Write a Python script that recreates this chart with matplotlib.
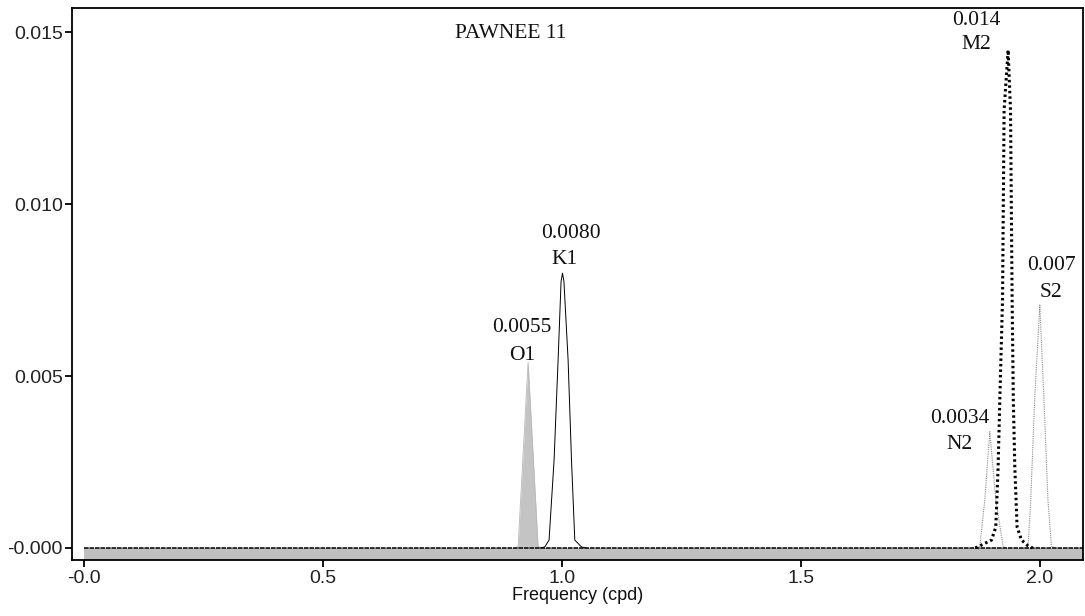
import matplotlib
matplotlib.use("Agg")
import matplotlib.pyplot as plt

# ---------------- data ----------------
title_text = "PAWNEE 11"

base_freq = [0.0, 2.09]
base_amp = [0.0, 0.0]

o1_freq = [0.903, 0.9086, 0.9295, 0.9504, 0.956]
o1_amp = [0.0, 0.00005, 0.0054, 0.00005, 0.0]

k1_freq = [0.955, 0.9644, 0.9734, 0.9839, 0.9923, 0.9985, 1.0015, 1.0045, 1.0132, 1.0203, 1.0272, 1.0412, 1.05]
k1_amp = [0.0, 0.00003, 0.00023, 0.00256, 0.00547, 0.00775, 0.00799, 0.00775, 0.00547, 0.00256, 0.00023, 0.00003, 0.0]

n2_freq = [1.868, 1.8745, 1.8849, 1.8954, 1.9079, 1.9232, 1.93]
n2_amp = [0.0, 0.00005, 0.0014, 0.00338, 0.0014, 0.00005, 0.0]

m2_freq = [1.865, 1.8745, 1.8990, 1.9079, 1.9128, 1.9163, 1.9220, 1.9253, 1.9337,
           1.9387, 1.9421, 1.9446, 1.9477, 1.9525, 1.9617, 1.9755, 1.985]
m2_amp = [0.0, 0.00006, 0.00023, 0.00061, 0.00235, 0.00430, 0.00721, 0.01273, 0.01448,
          0.01273, 0.00721, 0.00430, 0.00235, 0.00061, 0.00023, 0.00006, 0.0]

s2_freq = [1.968, 1.9755, 1.981, 1.9895, 2.0000, 2.0084, 2.017, 2.0244, 2.032]
s2_amp = [0.0, 0.00005, 0.0014, 0.0044, 0.00706, 0.0044, 0.0014, 0.00005, 0.0]

# peak annotations
ann_value = ["0.0055", "0.0080", "0.0034", "0.014", "0.007"]
ann_name = ["O1", "K1", "N2", "M2", "S2"]
ann_x = [0.917, 1.0186, 1.8326, 1.868, 2.0243]
ann_x_name = [0.917, 1.005, 1.8326, 1.868, 2.0243]
ann_y_value = [0.00640, 0.00913, 0.00375, 0.01535, 0.00820]
ann_y_name = [0.00561, 0.00840, 0.00300, 0.01465, 0.00744]

xtick_vals = [0.0, 0.5, 1.0, 1.5, 2.0]
xtick_labels = ["-0.0", "0.5", "1.0", "1.5", "2.0"]
ytick_vals = [0.0, 0.005, 0.010, 0.015]
ytick_labels = ["-0.000", "0.005", "0.010", "0.015"]
x_label = "Frequency (cpd)"

# ---------------- figure ----------------
fig = plt.figure(figsize=(10.85, 6.16), dpi=100)
ax = fig.add_axes([0.0668, 0.0909, 0.9312, 0.8961])

ax.set_xlim(-0.0236, 2.090)
ax.set_ylim(-0.00035, 0.0157)

# gray band below the baseline
ax.fill_between(base_freq, [-0.00034, -0.00034], base_amp, color="#c0c0c0", lw=0, zorder=1)

# O1 filled
ax.fill_between(o1_freq, 0, o1_amp, color="#c4c4c4", lw=0, zorder=2)
ax.plot(o1_freq, o1_amp, color="#b8b8b8", lw=0.6, zorder=2)

# K1 solid thin
ax.plot(k1_freq, k1_amp, color="black", lw=0.7, zorder=3)

# N2, S2 thin gray dotted
ax.plot(n2_freq, n2_amp, color="#8a8a8a", lw=0.8, ls=(0, (1, 1)), zorder=3)
ax.plot(s2_freq, s2_amp, color="#8a8a8a", lw=0.8, ls=(0, (1, 1)), zorder=3)

# M2 thick dotted
ax.plot(m2_freq, m2_amp, color="black", lw=2.2, ls=(0, (0.8, 1.0)), zorder=4)

# baseline
ax.plot(base_freq, base_amp, color="black", lw=1.1, ls=(0, (3, 0.6)), zorder=3)

serif = ["Liberation Serif", "DejaVu Serif"]
for v, n, xv, xn, yv, yn in zip(ann_value, ann_name, ann_x, ann_x_name, ann_y_value, ann_y_name):
    ax.text(xv, yv, v, ha="center", va="center", fontsize=15.5, family=serif, color="#111111")
    ax.text(xn, yn, n, ha="center", va="center", fontsize=15.5, family=serif, color="#111111")

ax.text(0.893, 0.01497, title_text, ha="center", va="center", fontsize=15.5, family=serif, color="#111111")

ax.set_xticks(xtick_vals)
ax.set_xticklabels(xtick_labels)
ax.set_yticks(ytick_vals)
ax.set_yticklabels(ytick_labels)
for lab in ax.get_xticklabels() + ax.get_yticklabels():
    lab.set_family(["Liberation Sans", "DejaVu Sans"])
    lab.set_fontsize(14)
    lab.set_color("#222222")
ax.tick_params(direction="out", length=5, width=1.3, color="black", pad=2)
ax.set_xlabel(x_label, fontsize=13, family=["Liberation Sans", "DejaVu Sans"], labelpad=0, color="#111111")

for s in ax.spines.values():
    s.set_linewidth(1.3)
    s.set_color("black")

fig.savefig("out.png", dpi=100)
